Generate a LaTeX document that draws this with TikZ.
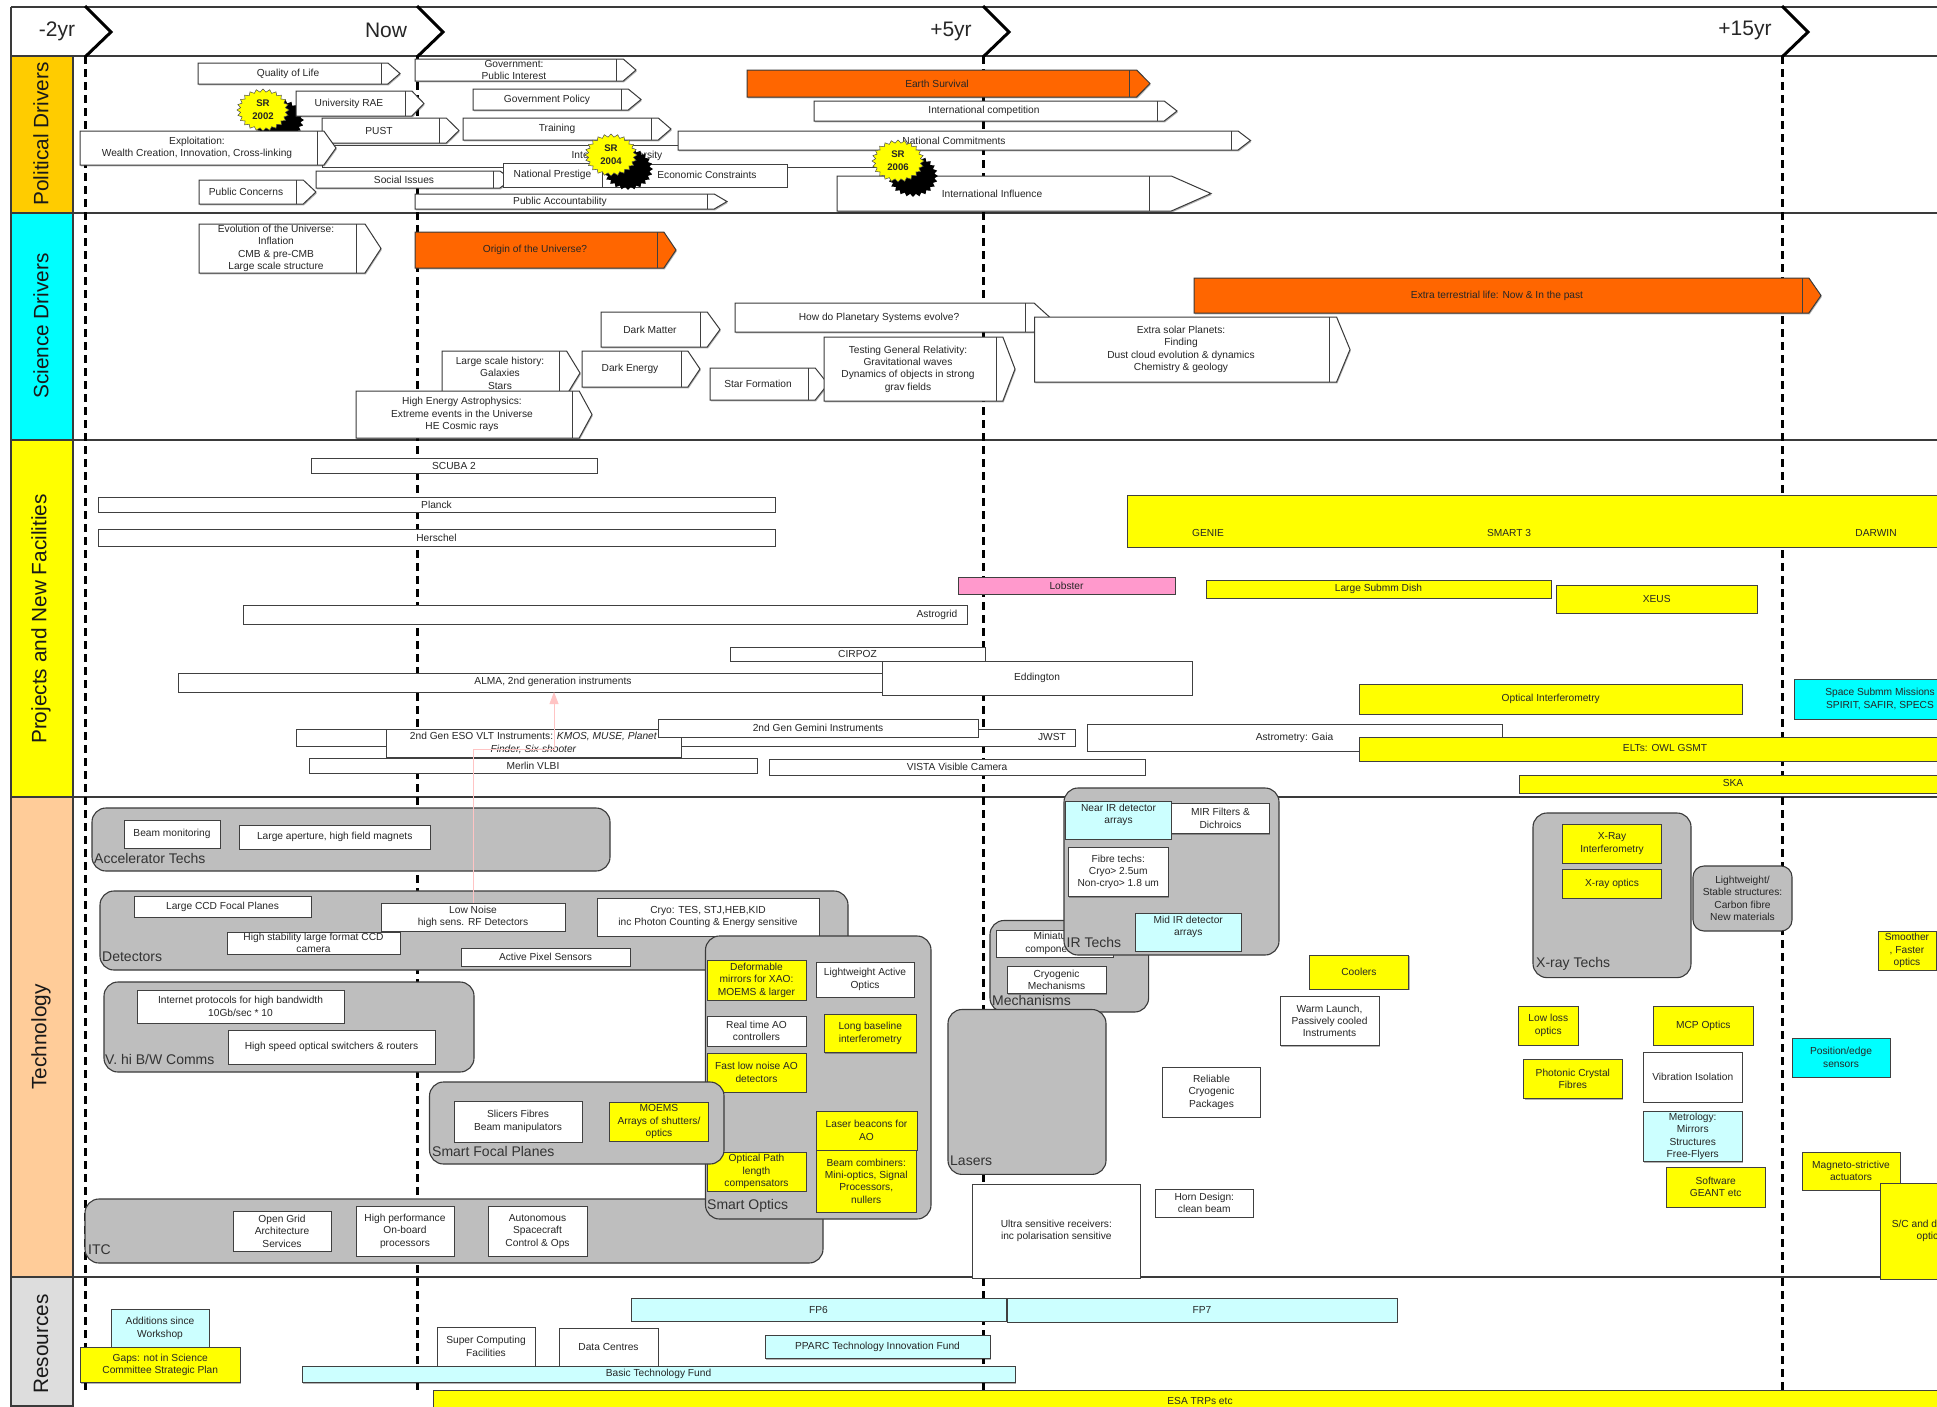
\documentclass[tikz,border=0pt]{standalone}
\usepackage{fontspec}
\setmainfont{Liberation Sans}
\usetikzlibrary{arrows.meta,shadows}
\definecolor{laneA}{HTML}{FFCC00}
\definecolor{laneB}{HTML}{00FFFF}
\definecolor{laneC}{HTML}{FFFF00}
\definecolor{laneD}{HTML}{FFCC99}
\definecolor{laneE}{HTML}{DDDDDD}
\definecolor{orangeF}{HTML}{FF6600}
\definecolor{pinkF}{HTML}{FF99CC}
\definecolor{paleC}{HTML}{CCFFFF}
\definecolor{groupG}{HTML}{BEBEBE}
\definecolor{inkL}{HTML}{3A3A3A}
\definecolor{pinkL}{HTML}{FFC4C4}
\definecolor{yellow}{HTML}{FFFF00}
\tikzset{
  softsh/.style={drop shadow={shadow xshift=0.8pt,shadow yshift=-1.4pt,fill=black,opacity=.3}},
  lab/.style={font=\fontsize{10.2}{12.4}\selectfont,align=center,inner sep=0pt,text=black!85},
  grouplab/.style={font=\fontsize{14}{16}\selectfont,anchor=west,inner sep=0pt,text=black!80},
  lanelab/.style={font=\fontsize{20.8}{24}\selectfont,rotate=90,inner sep=0pt,text=black!90},
  headlab/.style={font=\fontsize{21}{24}\selectfont,inner sep=0pt,text=black!85},
  lane/.style={draw=inkL,line width=1.6pt},
  lanefill/.style={draw=inkL,line width=1.2pt},
  dashline/.style={draw=black,line width=3pt,dash pattern=on 8pt off 5pt},
  chev/.style={draw=black,line width=3pt,line join=miter},
  arrowshape/.style={draw=inkL,line width=1pt,softsh},
  arrowdiv/.style={draw=black!75,line width=0.9pt},
  boxs/.style={lab,draw=black!75,line width=1pt,outer sep=0pt,softsh},
  groupbox/.style={draw=inkL,fill=groupG,line width=1.1pt,rounded corners=14pt,inner sep=0pt,outer sep=0pt},
  burstlab/.style={font=\bfseries\fontsize{9.6}{13}\selectfont,align=center,inner sep=0pt,text=black!85},
  linkarrow/.style={draw=pinkL,line width=0.8pt,-{Triangle[length=12pt,width=9pt,fill=pinkL]}}
}
% [fill]{name}{x1}{xdiv}{xtip}{y1}{y2}{text x}{text}
\newcommand{\ArrowBox}[9][white]{%
  \pgfmathsetmacro{\xh}{#4+0.36*(#5-#4)}%
  \pgfmathsetmacro{\ym}{(#6+#7)/2}%
  \path[arrowshape,fill=#1] (#3,#6) -- (\xh,#6) -- (#5,\ym) -- (\xh,#7) -- (#3,#7) -- cycle;
  \draw[arrowdiv] (#4,#6) -- (#4,#7);
  \node[lab] (#2) at (#8,\ym) {#9};
}
% [fill]{name}{x1}{y1}{x2}{y2}{text}
\newcommand{\PlainBox}[7][white]{%
  \node[boxs,fill=#1,minimum width={(#5-#3)*1pt},minimum height={(#6-#4)*1pt}] (#2) at ({(#3+#5)/2},{(#4+#6)/2}) {#7};
}
% {name}{x1}{y1}{x2}{y2}
\newcommand{\GroupBox}[5]{%
  \node[groupbox,minimum width={(#4-#2)*1pt},minimum height={(#5-#3)*1pt}] (#1) at ({(#2+#4)/2},{(#3+#5)/2}) {};
}
% {name}{x}{y}{text}
\newcommand{\FreeText}[4]{\node[lab] (#1) at (#2,#3) {#4};}
\newcommand{\GroupLabel}[4]{\node[grouplab] (#1) at (#2,#3) {#4};}
% {name}{cx}{cy}{black cx}{black cy}{text}
\newcommand{\BurstMark}[6]{%
  \fill[black] plot[samples at={0,...,47}] ({#4+(25-3.4*mod(\x,2))*cos(\x*7.5)},{#5+(21-3*mod(\x,2))*sin(\x*7.5)}) -- cycle;
  \filldraw[fill=yellow,draw=black!70,line width=0.5pt] plot[samples at={0,...,47}] ({#2+(26-3.4*mod(\x,2))*cos(\x*7.5)},{#3+(21-3*mod(\x,2))*sin(\x*7.5)}) -- cycle;
  \node[burstlab] (#1) at (#2,#3) {#6};
}
\begin{document}
\begin{tikzpicture}[x=1pt,y=-1pt]
\path[use as bounding box,fill=white] (0,0) rectangle (1937,1406);

% ===== lanes =====
\path[lanefill,fill=laneA] (11,56) rectangle (73,213);
\path[lanefill,fill=laneB] (11,213) rectangle (73,440);
\path[lanefill,fill=laneC] (11,440) rectangle (73,797);
\path[lanefill,fill=laneD] (11,797) rectangle (73,1277);
\path[lanefill,fill=laneE] (11,1277) rectangle (73,1406);
\draw[lane] (11,7) -- (11,1406);
\foreach \yy in {7,56,213,440,797,1277} \draw[lane] (11,\yy) -- (1937,\yy);
\foreach \xx in {85,417,983,1782} {
  \draw[dashline] (\xx,56) -- (\xx,1392);
}
\foreach \xx in {85,417,983,1782} {
  \draw[chev] (\xx,6) -- (\xx+26,32) -- (\xx,57);
}
\node[lanelab] (laneP) at (41,134) {Political Drivers};
\node[lanelab] (laneS) at (41,326) {Science Drivers};
\node[lanelab] (laneN) at (41,619) {Projects and New Facilities};
\node[lanelab] (laneT) at (41,1037) {Technology};
\node[lanelab] (laneR) at (41,1344) {Resources};
\node[headlab] (hA) at (57,31) {-2yr};
\node[headlab] (hB) at (386,30) {Now};
\node[headlab] (hC) at (951,31) {+5yr};
\node[headlab] (hD) at (1745,30) {+15yr};

% ===== political =====
\ArrowBox{quality}{198}{381}{400}{63}{84}{288}{Quality of Life}
\ArrowBox{govt}{415}{616}{636}{59}{81}{514}{Government:\\Public Interest}
\ArrowBox{concerns}{199}{296}{316}{180}{204}{246}{Public Concerns}
\BurstMark{srA}{263}{110}{279}{120}{SR\\2002}
\ArrowBox{rae}{296}{405}{424}{91}{116}{349}{University RAE}
\ArrowBox{policy}{473}{621}{641}{89}{110}{547}{Government Policy}
\ArrowBox{training}{463}{651}{671}{118}{140}{557}{Training}
\PlainBox{longbar}{322}{145}{900}{167}{}
\FreeText{longtext}{617}{156}{Intellectual Diversity}
\ArrowBox{pust}{322}{439}{459}{118}{143}{379}{PUST}
\ArrowBox{exploit}{80}{317}{336}{131}{165}{197}{Exploitation:\\Wealth Creation, Innovation, Cross-linking}
\ArrowBox{commit}{678}{1231}{1250.5}{131}{150}{954}{National Commitments}
\ArrowBox{social}{316}{493}{512}{171}{188}{404}{Social Issues}
\PlainBox{prestige}{503}{163}{602}{187}{National Prestige}
\PlainBox{econ}{602}{164}{787}{187}{}
\FreeText{econtext}{707}{175}{Economic Constraints}
\BurstMark{srB}{611}{155}{628}{169}{SR\\2004}
\ArrowBox{account}{415}{707}{727}{194}{209}{560}{Public Accountability}
\ArrowBox[orangeF]{earth}{747}{1129}{1150}{70}{97}{937}{Earth Survival}
\ArrowBox{intcomp}{814}{1157}{1177}{101}{121}{984}{International competition}
\ArrowBox{influence}{837}{1149}{1211}{176}{211}{992}{International Influence}
\BurstMark{srC}{898}{161}{913}{176}{SR\\2006}

% ===== science =====
\ArrowBox{evolution}{199}{356}{381}{224}{273}{276}{Evolution of the Universe:\\Inflation\\CMB \& pre-CMB\\Large scale structure}
\ArrowBox[orangeF]{origin}{415}{657}{676}{232}{268}{535}{Origin of the Universe?}
\ArrowBox[orangeF]{extralife}{1194}{1802}{1821}{278}{313}{1497}{Extra terrestrial life: Now \& In the past}
\ArrowBox{planetary}{735}{1025}{1050}{303}{332}{879}{How do Planetary Systems evolve?}
\ArrowBox{darkmatter}{601}{700}{720}{312}{347}{650}{Dark Matter}
\ArrowBox{darkenergy}{582}{681}{700}{351}{387}{630}{Dark Energy}
\ArrowBox{largescale}{442}{559}{580}{351}{395}{500}{Large scale history:\\Galaxies\\Stars}
\ArrowBox{highenergy}{356}{572}{592}{391}{438}{462}{High Energy Astrophysics:\\Extreme events in the Universe\\HE Cosmic rays}
\ArrowBox{starform}{710}{808}{828}{368}{400}{758}{Star Formation}
\ArrowBox{relativity}{824}{996}{1015}{337}{401}{908}{Testing General Relativity:\\Gravitational waves\\Dynamics of objects in strong\\grav fields}
\ArrowBox{extrasolar}{1034.5}{1329}{1350}{317}{382}{1181}{Extra solar Planets:\\Finding\\Dust cloud evolution \& dynamics\\Chemistry \& geology}

% ===== projects =====
\PlainBox{scuba}{311}{458}{597}{473}{SCUBA 2}
\PlainBox{planck}{98}{497}{775}{512}{Planck}
\PlainBox{herschel}{98}{529}{775}{546}{Herschel}
\PlainBox{astrogrid}{243}{605}{967}{624}{}
\FreeText{astrotext}{937}{615}{Astrogrid}
\PlainBox{cirpoz}{730}{647}{985}{661}{CIRPOZ}
\PlainBox{alma}{178}{673}{890}{692}{}
\FreeText{almatext}{553}{682}{ALMA, 2nd generation instruments}
\PlainBox{eddington}{882}{661}{1192}{695}{Eddington}
\PlainBox[pinkF]{lobster}{958}{577}{1175}{594}{Lobster}
\PlainBox{jwst}{296}{729}{1075}{746}{}
\FreeText{jwsttext}{1052}{737}{JWST}
\PlainBox{vlt}{386}{729}{681}{757}{2nd Gen ESO VLT Instruments: \textit{KMOS, MUSE, Planet}\\\textit{Finder, Six-shooter}}
\PlainBox{gemini}{658}{719}{978}{737}{2nd Gen Gemini Instruments}
\PlainBox{merlin}{309}{758}{757}{773}{Merlin VLBI}
\PlainBox{vista}{769}{759}{1145}{775}{VISTA Visible Camera}
\PlainBox[yellow]{darwin}{1127}{495}{1960}{547}{}
\FreeText{genie}{1208}{533}{GENIE}
\FreeText{smart}{1509}{533}{SMART 3}
\FreeText{darwintext}{1876}{533}{DARWIN}
\PlainBox[yellow]{submm}{1206}{580}{1551}{598}{Large Submm Dish}
\PlainBox[yellow]{xeus}{1556}{585}{1757.5}{613}{XEUS}
\PlainBox[yellow]{optint}{1359}{684}{1742.5}{714}{Optical Interferometry}
\PlainBox[laneB]{spacesub}{1794}{679}{1966}{719}{Space Submm Missions\\SPIRIT, SAFIR, SPECS}
\PlainBox{gaia}{1087}{724}{1502}{751}{Astrometry: Gaia}
\PlainBox[yellow]{elts}{1359}{737}{1960}{761}{}
\FreeText{eltstext}{1665}{748}{ELTs: OWL GSMT}
\PlainBox[yellow]{ska}{1519}{775}{1960}{793}{}
\FreeText{skatext}{1733}{783}{SKA}

% ===== technology, left =====
\GroupBox{accel}{92}{808}{610}{871}
\GroupLabel{accellab}{94}{858}{Accelerator Techs}
\PlainBox{beammon}{124}{820}{220}{848}{Beam monitoring}
\PlainBox{aperture}{239.5}{825}{430}{849}{Large aperture, high field magnets}

\GroupBox{detectors}{100}{891}{848}{970}
\GroupLabel{detlab}{102}{957}{Detectors}
\PlainBox{ccd}{134}{896}{311}{917}{Large CCD Focal Planes}
\PlainBox{lownoise}{381}{903}{565}{931}{Low Noise\\high sens. RF Detectors}
\PlainBox{cryo}{597}{898}{819}{936}{Cryo: TES, STJ,HEB,KID\\inc Photon Counting \& Energy sensitive}
\PlainBox{stability}{227}{932}{400}{954}{High stability large format CCD\\camera}
\PlainBox{activepix}{461}{948}{630}{966}{Active Pixel Sensors}

\GroupBox{comms}{104}{982}{474}{1072}
\GroupLabel{commslab}{105}{1059}{V. hi B/W Comms}
\PlainBox{internet}{137}{990}{344}{1023}{Internet protocols for high bandwidth\\10Gb/sec * 10}
\PlainBox{switches}{228}{1030}{435}{1064}{High speed optical switchers \& routers}

\GroupBox{itc}{85}{1199}{823}{1263}
\GroupLabel{itclab}{88}{1250}{ITC}
\PlainBox{opengrid}{233}{1211}{331}{1251}{Open Grid\\Architecture\\Services}
\PlainBox{onboard}{356}{1206.5}{454}{1256}{High performance\\On-board\\processors}
\PlainBox{spacecraft}{488}{1206.5}{587}{1256}{Autonomous\\Spacecraft\\Control \& Ops}

\GroupBox{smartoptics}{705.5}{936}{931}{1219}
\GroupLabel{smartopticslab}{707}{1206}{Smart Optics}
\PlainBox[yellow]{deform}{707}{960}{806}{1000}{Deformable\\mirrors for XAO:\\MOEMS \& larger}
\PlainBox{lightactive}{816}{962}{914}{997}{Lightweight Active\\Optics}
\PlainBox{realtime}{707}{1016}{806}{1046}{Real time AO\\controllers}
\PlainBox[yellow]{longbase}{824}{1014}{916.5}{1052.5}{Long baseline\\interferometry}
\PlainBox[yellow]{fastao}{707}{1053}{806}{1092}{Fast low noise AO\\detectors}
\PlainBox[yellow]{laserb}{816}{1111}{917}{1150}{Laser beacons for\\AO}
\PlainBox[yellow]{optpath}{707}{1152}{806}{1191}{Optical Path\\length\\compensators}
\PlainBox[yellow]{beamcomb}{816}{1150}{916.5}{1212}{Beam combiners:\\Mini-optics, Signal\\Processors,\\nullers}

\GroupBox{focal}{429.5}{1082}{724}{1164}
\GroupLabel{focallab}{432}{1151}{Smart Focal Planes}
\PlainBox{slicers}{454}{1101}{582}{1142}{Slicers Fibres\\Beam manipulators}
\PlainBox[yellow]{moems}{609.5}{1102}{708.5}{1141}{MOEMS\\Arrays of shutters/\\optics}

% ===== technology, right =====
\GroupBox{mech}{990}{920.5}{1148.6}{1012}
\GroupLabel{mechlab}{992}{1000}{Mechanisms}
\PlainBox{minia}{996}{930}{1113}{957}{Miniature\\components,}
\PlainBox{cryomech}{1007}{966}{1106}{993.5}{Cryogenic\\Mechanisms}
\GroupBox{lasers}{948}{1009.5}{1106}{1174.4}
\GroupLabel{laserslab}{950}{1161}{Lasers}
\GroupBox{irtechs}{1064}{788}{1279}{955}
\GroupLabel{irlab}{1066.5}{942}{IR Techs}
\PlainBox{mirf}{1171.5}{803}{1269.5}{833.5}{MIR Filters \&\\Dichroics}
\PlainBox[paleC]{nearir}{1065.5}{801}{1171.5}{839}{Near IR detector\\arrays\\\mbox{}}
\PlainBox{fibre}{1068.5}{847}{1168}{896.5}{Fibre techs:\\Cryo> 2.5um\\Non-cryo> 1.8 um}
\PlainBox[paleC]{midir}{1135}{913}{1241.5}{951}{Mid IR detector\\arrays\\\mbox{}}
\PlainBox[yellow]{coolers}{1309}{955}{1408.7}{989}{Coolers}
\PlainBox{warm}{1280}{996}{1379}{1045.5}{Warm Launch,\\Passively cooled\\Instruments}
\PlainBox{reliable}{1162.5}{1067}{1260.5}{1117}{Reliable\\Cryogenic\\Packages}
\PlainBox{ultra}{972.6}{1184}{1140}{1278}{Ultra sensitive receivers:\\inc polarisation sensitive}
\PlainBox{horn}{1155}{1189}{1253.5}{1217}{Horn Design:\\clean beam}
\GroupBox{xray}{1533}{813}{1691}{977.6}
\GroupLabel{xraylab}{1536}{964}{X-ray Techs}
\PlainBox[yellow]{xrayint}{1562.5}{824}{1661.5}{863}{X-Ray\\Interferometry}
\PlainBox[yellow]{xrayopt}{1562.5}{869.4}{1661.5}{898}{X-ray optics}
\node[groupbox,lab,rounded corners=11pt,minimum width=99pt,minimum height=65pt] (stable) at (1742.5,898.5) {Lightweight/\\Stable structures:\\Carbon fibre\\New materials};
\PlainBox[yellow]{lowloss}{1518.6}{1006}{1578}{1045}{Low loss\\optics}
\PlainBox[yellow]{mcp}{1653.5}{1006}{1753}{1045}{MCP Optics}
\PlainBox[yellow]{photonic}{1523.7}{1059.4}{1622}{1098.6}{Photonic Crystal\\Fibres}
\PlainBox{vibration}{1643.5}{1052}{1742}{1102}{Vibration Isolation}
\PlainBox[paleC]{metrology}{1643.5}{1111}{1742}{1161.6}{Metrology:\\Mirrors\\Structures\\Free-Flyers}
\PlainBox[yellow]{software}{1666.4}{1167}{1765}{1207}{Software\\GEANT etc}
\PlainBox[yellow]{smoother}{1878}{931}{1936}{970}{Smoother\\, Faster\\optics}
\PlainBox[laneB]{position}{1792}{1038}{1890}{1077}{Position/edge\\sensors}
\PlainBox[yellow]{magneto}{1802}{1152}{1900}{1190}{Magneto-strictive\\actuators}
\PlainBox[yellow]{scoptics}{1880}{1183}{1980}{1279}{S/C and detector\\optics}

% ===== resources =====
\PlainBox[paleC]{additions}{111}{1309.5}{209}{1347}{Additions since\\Workshop}
\PlainBox[yellow]{gaps}{80.5}{1347}{240}{1382.5}{Gaps: not in Science\\Committee Strategic Plan}
\PlainBox[paleC]{fpsix}{631}{1298}{1006}{1321}{FP6}
\PlainBox[paleC]{fpseven}{1007}{1298}{1397}{1322}{FP7}
\PlainBox{supercomp}{437}{1327}{535}{1366}{Super Computing\\Facilities}
\PlainBox{datac}{559}{1328}{658}{1366}{Data Centres}
\PlainBox[paleC]{pparc}{765}{1335}{990}{1358.6}{PPARC Technology Innovation Fund}
\PlainBox[paleC]{basic}{302}{1366}{1015}{1382.5}{Basic Technology Fund}
\PlainBox[yellow]{esa}{433}{1390}{1967}{1412}{ESA TRPs etc}

% ===== connector =====
\coordinate (pinkA) at (473,749);
\coordinate (pinkB) at (554,749);
\draw[linkarrow] (lownoise.north) -- (pinkA) -- (pinkB) -- (alma.south -| pinkB);
\end{tikzpicture}
\end{document}
